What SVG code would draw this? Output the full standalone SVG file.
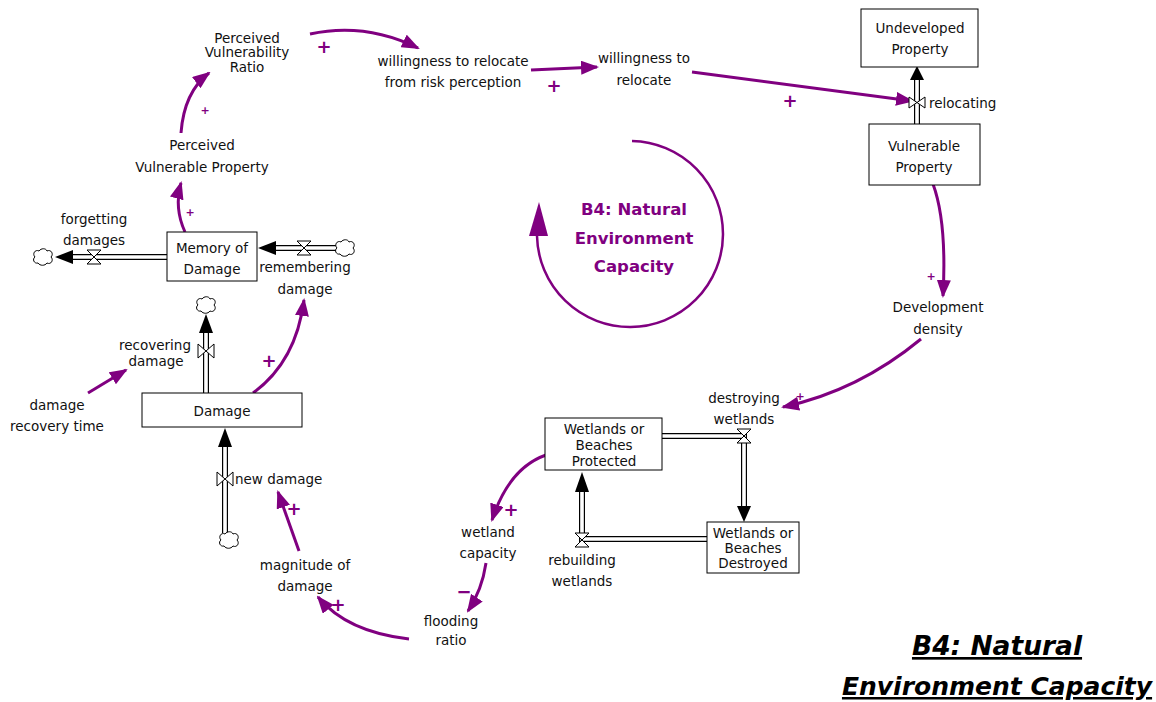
<svg xmlns="http://www.w3.org/2000/svg" width="1156" height="702" viewBox="0 0 1156 702">
  <style>
    .t { font-family: "Comic Sans MS", "DejaVu Sans", sans-serif; font-size: 13.5px; fill: #111; text-anchor: middle; }
    .ts { text-anchor: start; }
    .stock { fill: #fff; stroke: #000; stroke-width: 1; }
    .pipeo { fill: none; stroke: #000; stroke-width: 6; stroke-linejoin: miter; }
    .pipei { fill: none; stroke: #fff; stroke-width: 3.6; stroke-linejoin: miter; }
    .valve { fill: #fff; stroke: #000; stroke-width: 1; }
    .head { fill: #000; }
    .cloud { fill: #fff; stroke: #000; stroke-width: 1; }
    .link { fill: none; stroke: #800080; stroke-width: 3; marker-end: url(#ah); }
    .pol { font-family: "Comic Sans MS", "DejaVu Sans", sans-serif; font-weight: bold; fill: #800080; text-anchor: middle; }
    .big { font-size: 18px; }
    .sm { font-size: 11px; }
    .loop { font-family: "Comic Sans MS", "DejaVu Sans", sans-serif; font-size: 16.5px; font-weight: bold; fill: #800080; text-anchor: middle; }
    .title { font-family: "Comic Sans MS", "DejaVu Sans", sans-serif; font-size: 25px; font-weight: bold; font-style: italic; fill: #000; text-anchor: middle; text-decoration: underline; }
    .title1 { font-size: 26.5px; }
  </style>
  <defs>
    <marker id="ah" markerUnits="userSpaceOnUse" markerWidth="18" markerHeight="14" viewBox="0 0 18 14" refX="16" refY="7" orient="auto">
      <path d="M0,0 L18,7 L0,14 Z" fill="#800080"/>
    </marker>
    <path id="cloudShape" class="cloud" d="M-5,6 C-9,7 -11,2 -8,0 C-11,-3 -8,-8 -4,-6 C-2,-9 3,-9 4,-6 C8,-8 11,-3 8,0 C11,3 8,8 4,6 C2,9 -3,9 -5,6 Z"/>
  </defs>

  <rect width="1156" height="702" fill="#fff"/>

  <!-- causal links -->
  <g id="connectors">
    <path class="link" d="M185,232 Q174,208 181,183"/>
    <path class="link" d="M181,133 Q184,92 209,73"/>
    <path class="link" d="M310,34 Q365,22 418,48"/>
    <path class="link" d="M531,70 L597,67"/>
    <path class="link" d="M692,72 L912,101"/>
    <path class="link" d="M933,184 Q947,222 943,296"/>
    <path class="link" d="M921,339 Q858,391 783,407"/>
    <path class="link" d="M546,455 Q509,468 492,520"/>
    <path class="link" d="M486,563 Q482,590 468,611"/>
    <path class="link" d="M409,639 Q347,632 318,597"/>
    <path class="link" d="M299,551 L278,492"/>
    <path class="link" d="M253,393 Q296,362 304,300"/>
    <path class="link" d="M88,393 L126,370"/>
    <!-- polarities -->
    <text class="pol sm" x="190" y="216">+</text>
    <text class="pol sm" x="205" y="114">+</text>
    <text class="pol big" x="324" y="53">+</text>
    <text class="pol big" x="554" y="92">+</text>
    <text class="pol big" x="790" y="107">+</text>
    <text class="pol sm" x="931" y="280">+</text>
    <text class="pol sm" x="800" y="400">+</text>
    <text class="pol big" x="511" y="516">+</text>
    <text class="pol big" x="464" y="598">−</text>
    <text class="pol big" x="338" y="611">+</text>
    <text class="pol big" x="294" y="515">+</text>
    <text class="pol big" x="269" y="367">+</text>
  </g>

  <!-- flows: pipes, valves, sources/sinks -->
  <g id="flow-relocating">
    <path class="pipeo" d="M917,124 V79"/>
    <path class="pipei" d="M917,124 V79"/>
    <polygon class="head" points="910,80 924,80 917,66"/>
    <polygon class="valve" points="909,97 917,102.5 909,108"/>
    <polygon class="valve" points="925,97 917,102.5 925,108"/>
    <text class="t ts" x="929" y="108">relocating</text>
  </g>

  <g id="flow-forgetting">
    <path class="pipeo" d="M167,257 H72"/>
    <path class="pipei" d="M167,257 H72"/>
    <polygon class="head" points="73,250 73,264 55,257"/>
    <polygon class="valve" points="87,250 101,250 94,257"/>
    <polygon class="valve" points="87,264 101,264 94,257"/>
    <use href="#cloudShape" x="43" y="257"/>
    <text class="t" x="94" y="224">forgetting</text>
    <text class="t" x="94" y="245">damages</text>
  </g>

  <g id="flow-remembering">
    <path class="pipeo" d="M336,248 H275"/>
    <path class="pipei" d="M336,248 H275"/>
    <polygon class="head" points="276,241 276,255 258,248"/>
    <polygon class="valve" points="297,241 311,241 304,248"/>
    <polygon class="valve" points="297,255 311,255 304,248"/>
    <use href="#cloudShape" x="345" y="248"/>
    <text class="t" x="305" y="272">remembering</text>
    <text class="t" x="305" y="294">damage</text>
  </g>

  <g id="flow-recovering">
    <path class="pipeo" d="M206,393 V332"/>
    <path class="pipei" d="M206,393 V332"/>
    <polygon class="head" points="199,333 213,333 206,314"/>
    <polygon class="valve" points="198,344 206,351 198,358"/>
    <polygon class="valve" points="214,344 206,351 214,358"/>
    <use href="#cloudShape" x="206" y="305"/>
    <text class="t" x="155" y="350">recovering</text>
    <text class="t" x="156" y="366">damage</text>
  </g>

  <g id="flow-new-damage">
    <path class="pipeo" d="M225,533 V446"/>
    <path class="pipei" d="M225,533 V446"/>
    <polygon class="head" points="218,447 232,447 225,428"/>
    <polygon class="valve" points="217,472 225,479 217,486"/>
    <polygon class="valve" points="233,472 225,479 233,486"/>
    <use href="#cloudShape" x="229" y="540"/>
    <text class="t ts" x="235" y="484">new damage</text>
  </g>

  <g id="flow-destroying">
    <path class="pipeo" d="M662,436 H744 V506"/>
    <path class="pipei" d="M662,436 H744 V506"/>
    <polygon class="head" points="737,506 751,506 744,522"/>
    <polygon class="valve" points="737,429 751,429 744,436"/>
    <polygon class="valve" points="737,443 751,443 744,436"/>
    <text class="t" x="744" y="403">destroying</text>
    <text class="t" x="744" y="424">wetlands</text>
  </g>

  <g id="flow-rebuilding">
    <path class="pipeo" d="M707,539 H582 V491"/>
    <path class="pipei" d="M707,539 H582 V491"/>
    <polygon class="head" points="575,492 589,492 582,472"/>
    <polygon class="valve" points="575,533 589,533 582,540"/>
    <polygon class="valve" points="575,547 589,547 582,540"/>
    <text class="t" x="582" y="565">rebuilding</text>
    <text class="t" x="582" y="586">wetlands</text>
  </g>

  <!-- stocks -->
  <g id="undeveloped-property">
    <rect class="stock" x="861" y="9" width="117" height="58"/>
    <text class="t" x="920" y="33">Undeveloped</text>
    <text class="t" x="920" y="54">Property</text>
  </g>
  <g id="vulnerable-property">
    <rect class="stock" x="869" y="124" width="111" height="61"/>
    <text class="t" x="924" y="151">Vulnerable</text>
    <text class="t" x="924" y="172">Property</text>
  </g>
  <g id="memory-of-damage">
    <rect class="stock" x="167" y="232" width="90" height="49"/>
    <text class="t" x="212" y="253">Memory of</text>
    <text class="t" x="212" y="274">Damage</text>
  </g>
  <g id="damage">
    <rect class="stock" x="142" y="393" width="160" height="34"/>
    <text class="t" x="222" y="416">Damage</text>
  </g>
  <g id="wetlands-protected">
    <rect class="stock" x="545" y="418" width="117" height="52"/>
    <text class="t" x="604" y="434">Wetlands or</text>
    <text class="t" x="604" y="450">Beaches</text>
    <text class="t" x="604" y="466">Protected</text>
  </g>
  <g id="wetlands-destroyed">
    <rect class="stock" x="707" y="522" width="92" height="51"/>
    <text class="t" x="753" y="538">Wetlands or</text>
    <text class="t" x="753" y="553">Beaches</text>
    <text class="t" x="753" y="568">Destroyed</text>
  </g>

  <!-- auxiliary variables -->
  <g id="perceived-vulnerability-ratio">
    <text class="t" x="247" y="43">Perceived</text>
    <text class="t" x="247" y="57">Vulnerability</text>
    <text class="t" x="247" y="72">Ratio</text>
  </g>
  <g id="willingness-risk-perception">
    <text class="t" x="453" y="66">willingness to relocate</text>
    <text class="t" x="453" y="87">from risk perception</text>
  </g>
  <g id="willingness-to-relocate">
    <text class="t" x="644" y="63">willingness to</text>
    <text class="t" x="644" y="85">relocate</text>
  </g>
  <g id="perceived-vulnerable-property">
    <text class="t" x="202" y="150">Perceived</text>
    <text class="t" x="202" y="172">Vulnerable Property</text>
  </g>
  <g id="damage-recovery-time">
    <text class="t" x="57" y="410">damage</text>
    <text class="t" x="57" y="431">recovery time</text>
  </g>
  <g id="magnitude-of-damage">
    <text class="t" x="305" y="570">magnitude of</text>
    <text class="t" x="305" y="591">damage</text>
  </g>
  <g id="flooding-ratio">
    <text class="t" x="451" y="626">flooding</text>
    <text class="t" x="451" y="645">ratio</text>
  </g>
  <g id="wetland-capacity">
    <text class="t" x="488" y="537">wetland</text>
    <text class="t" x="488" y="558">capacity</text>
  </g>
  <g id="development-density">
    <text class="t" x="938" y="312">Development</text>
    <text class="t" x="938" y="334">density</text>
  </g>

  <!-- loop marker -->
  <g id="loop-b4">
    <path d="M632,141 A93,93 0 1,1 537,236" fill="none" stroke="#800080" stroke-width="2.5"/>
    <polygon points="529,236 548,236 539,202" fill="#800080"/>
    <text class="loop" x="634" y="215">B4: Natural</text>
    <text class="loop" x="634" y="244">Environment</text>
    <text class="loop" x="634" y="272">Capacity</text>
  </g>

  <!-- title -->
  <g id="title">
    <text class="title title1" x="997" y="655">B4: Natural</text>
    <text class="title" x="997" y="695">Environment Capacity</text>
  </g>
</svg>
